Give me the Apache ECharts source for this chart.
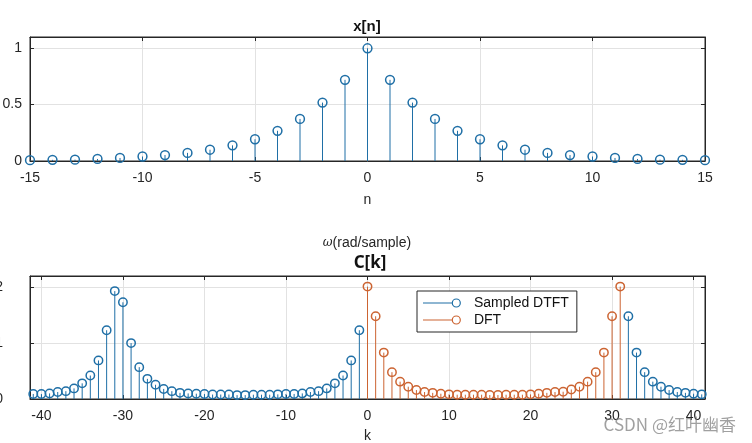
<!DOCTYPE html>
<html><head><meta charset="utf-8">
<script src="https://cdn.jsdelivr.net/npm/echarts@6/dist/echarts.min.js"></script>
<style>html,body{margin:0;padding:0;background:#fff}#c{width:752px;height:443px}</style>
</head><body><div id="c"></div>
<script>
// ---- data ----
const nStart = -15;
const xValues = [0.007,0.01,0.012,0.018,0.027,0.04,0.053,0.072,0.10,0.139,0.193,0.268,0.373,0.518,0.72,1.0,
                 0.72,0.518,0.373,0.268,0.193,0.139,0.10,0.072,0.053,0.04,0.027,0.018,0.012,0.01,0.007];
const dtftLeftStart = -41;
const dtftLeft = [0.09,0.09,0.10,0.125,0.14,0.19,0.28,0.42,0.69,1.23,1.93,1.73,1.0,0.57,0.36,0.255,0.18,0.14,0.11,0.10,
                  0.095,0.09,0.08,0.08,0.08,0.07,0.07,0.077,0.077,0.077,0.083,0.09,0.09,0.10,0.125,0.14,0.19,0.28,0.42,0.69,1.23];
const dtftRightStart = 32;
const dtftRight = [1.48,0.83,0.48,0.31,0.22,0.16,0.125,0.11,0.095,0.083];
const dftStart = 0;
const dftValues = [2.01,1.48,0.83,0.48,0.31,0.22,0.16,0.125,0.11,0.095,0.083,0.077,0.077,0.077,0.077,0.071,
                   0.071,0.077,0.077,0.077,0.083,0.095,0.11,0.125,0.13,0.17,0.22,0.31,0.48,0.83,1.48,2.01];
const topXTickLabels = [-15,-10,-5,0,5,10,15];
const topYTickLabels = [0,0.5,1];
const botXTickLabels = [-40,-30,-20,-10,0,10,20,30,40];
const botYTickLabels = [0,1,2];
const seriesNames = ['Sampled DTFT','DFT'];

// ---- styles ----
const BLUE = '#1f6fa6', ORANGE = '#cc6432', AX = '#262626', GRID = '#e2e2e2';
const FONT = 'Liberation Sans';

function pairs(start, vals){ return vals.map((v,i)=>[start+i, v]); }
function inList(list){
  return v => list.some(t => Math.abs(t - v) < 1e-6) ? String(v) : '';
}
function stemRender(color, r){
  return function(params, api){
    const x = api.value(0), y = api.value(1);
    const p0 = api.coord([x, 0]), p1 = api.coord([x, y]);
    return {type:'group', children:[
      {type:'line', shape:{x1:p0[0], y1:p0[1], x2:p1[0], y2:p1[1]}, style:{stroke:color, lineWidth:1}},
      {type:'circle', shape:{cx:p1[0], cy:p1[1], r:r}, style:{fill:'none', stroke:color, lineWidth:1.5}}
    ]};
  };
}
function baseAxis(extra){
  return Object.assign({
    type:'value',
    axisLine:{show:true, onZero:false, lineStyle:{color:AX, width:1}},
    axisTick:{show:true, inside:true, length:4, lineStyle:{color:AX}},
    splitLine:{show:true, lineStyle:{color:GRID, width:1}},
    axisLabel:{color:AX, fontSize:14, fontFamily:FONT}
  }, extra);
}
function mirror(extra){
  return baseAxis(Object.assign({axisLabel:{show:false}, splitLine:{show:false}}, extra));
}

const iconPath = 'path://M0,4.5 L29,4.5 L29,5.5 L0,5.5 Z M33.3,0.4 A4.6,4.6 0 1,1 33.29,0.4 Z M33.3,1.6 A3.4,3.4 0 1,0 33.31,1.6 Z';

const option = {
  animation:false,
  backgroundColor:'#fff',
  grid:[
    {left:30, right:47, top:37, height:124, show:true, borderColor:AX, borderWidth:1, backgroundColor:'#fff', containLabel:false, outerBoundsMode:'none'},
    {left:30, right:47, top:276, height:123, show:true, borderColor:AX, borderWidth:1, backgroundColor:'#fff', containLabel:false, outerBoundsMode:'none'}
  ],
  xAxis:[
    baseAxis({gridIndex:0, min:-15, max:15, interval:5, position:'bottom',
      name:'n', nameLocation:'middle', nameGap:32, nameTextStyle:{color:AX, fontSize:14, fontFamily:FONT},
      axisLabel:{color:AX, fontSize:14, fontFamily:FONT, margin:10, formatter:inList(topXTickLabels)}}),
    mirror({gridIndex:0, min:-15, max:15, interval:5, position:'top'}),
    baseAxis({gridIndex:1, min:-41.4, max:41.4, minInterval:10, maxInterval:10, position:'bottom',
      name:'k', nameLocation:'middle', nameGap:30, nameTextStyle:{color:AX, fontSize:14, fontFamily:FONT},
      axisLabel:{color:AX, fontSize:14, fontFamily:FONT, margin:10, formatter:inList(botXTickLabels)}}),
    mirror({gridIndex:1, min:-41.4, max:41.4, minInterval:10, maxInterval:10, position:'top'})
  ],
  yAxis:[
    baseAxis({gridIndex:0, min:0, max:1.1, interval:0.5, position:'left',
      axisLabel:{color:AX, fontSize:14, fontFamily:FONT, margin:8, formatter:inList(topYTickLabels)}}),
    mirror({gridIndex:0, min:0, max:1.1, interval:0.5, position:'right'}),
    baseAxis({gridIndex:1, min:0, max:2.2, interval:1, position:'left',
      axisLabel:{color:AX, fontSize:14, fontFamily:FONT, margin:27, formatter:inList(botYTickLabels)}}),
    mirror({gridIndex:1, min:0, max:2.2, interval:1, position:'right'})
  ],
  legend:{
    orient:'vertical', left:417, top:291,
    data:seriesNames,
    icon:iconPath, itemWidth:38, itemHeight:9.2, itemGap:3,
    padding:[5,8,5,6],
    borderColor:AX, borderWidth:1, backgroundColor:'#fff',
    textStyle:{color:'#111', fontSize:14, fontFamily:FONT, padding:[0,0,0,8]},
    itemStyle:{borderWidth:0}
  },
  graphic:[
    {type:'text', x:367, y:27, style:{text:'x[n]', align:'center', verticalAlign:'middle',
      font:'bold 15px "Liberation Sans"', fill:'#111'}},
    {type:'text', x:367, y:243, style:{text:'{w|ω}(rad/sample)', align:'center', verticalAlign:'middle',
      font:'14px "Liberation Sans"', fill:AX,
      rich:{w:{fontStyle:'italic', fontSize:12, fontFamily:'DejaVu Serif', fill:AX}}}},
    {type:'text', x:370, y:263, style:{text:'C[k]', align:'center', verticalAlign:'middle',
      font:'bold 17px "Noto Sans"', fill:'#111'}},
    {type:'text', x:736, y:425, style:{text:'CSDN @红叶幽香', align:'right', verticalAlign:'middle',
      font:'17px "Noto Sans CJK SC"', fill:'rgba(120,120,120,0.7)'}, z:100}
  ],
  series:[
    {type:'custom', name:'x[n]', coordinateSystem:'cartesian2d', xAxisIndex:0, yAxisIndex:0,
      itemStyle:{color:BLUE}, renderItem:stemRender(BLUE, 4.4), data:pairs(nStart, xValues), clip:false},
    {type:'custom', name:seriesNames[0], coordinateSystem:'cartesian2d', xAxisIndex:2, yAxisIndex:2,
      itemStyle:{color:BLUE}, renderItem:stemRender(BLUE, 4.2),
      data:pairs(dtftLeftStart, dtftLeft).concat(pairs(dtftRightStart, dtftRight)), clip:false},
    {type:'custom', name:seriesNames[1], coordinateSystem:'cartesian2d', xAxisIndex:2, yAxisIndex:2,
      itemStyle:{color:ORANGE}, renderItem:stemRender(ORANGE, 4.2), data:pairs(dftStart, dftValues), clip:false}
  ]
};
const chart = echarts.init(document.getElementById('c'), null, {renderer:'canvas'});
chart.setOption(option);
</script></body></html>
